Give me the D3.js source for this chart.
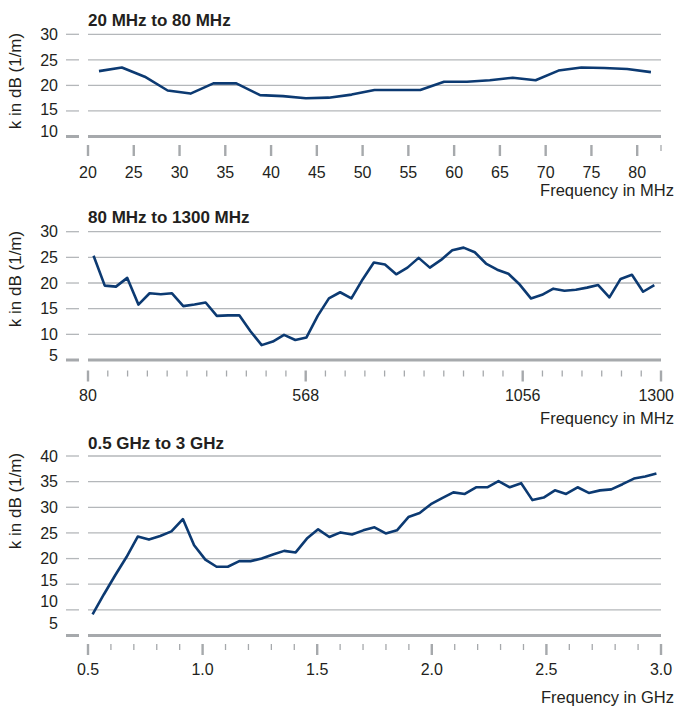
<!DOCTYPE html>
<html>
<head>
<meta charset="utf-8">
<script src="https://cdn.jsdelivr.net/npm/d3@7"></script>
<style>
  body { margin: 0; background: #fff; }
  svg { display: block; }
  text { font-family: "Liberation Sans", Arial, sans-serif; fill: #231f20; }
</style>
</head>
<body>
<svg id="chart"></svg>
<script>
// --- data ---
const band1Freq = [21.2, 23.7, 26.2, 28.7, 31.2, 33.7, 36.2, 38.8, 41.3, 43.8, 46.3, 48.8, 51.3,
  53.8, 56.3, 58.9, 61.4, 63.9, 66.4, 68.9, 71.4, 73.9, 76.4, 78.9, 81.5];
const band1K = [22.8, 23.5, 21.7, 19.0, 18.4, 20.4, 20.4, 18.1, 17.9, 17.5, 17.6, 18.2, 19.1,
  19.1, 19.1, 20.7, 20.7, 21.0, 21.5, 21.0, 22.9, 23.5, 23.4, 23.2, 22.6];

const band2Freq = [92.5, 117.6, 142.7, 168.0, 193.0, 218.1, 243.2, 268.3, 293.6, 318.7, 343.7,
  368.8, 394.1, 419.1, 444.2, 469.3, 494.3, 519.4, 544.7, 569.8, 595.0, 620.2, 645.4, 670.8,
  696.0, 721.2, 746.3, 771.5, 796.9, 822.0, 847.2, 872.4, 897.6, 923.0, 948.2, 973.4, 998.7,
  1023.8, 1049.3, 1070.5, 1090.2, 1110.0, 1129.7, 1149.7, 1169.4, 1189.2, 1209.0, 1228.7,
  1248.7, 1268.4, 1288.2];
const band2K = [25.3, 19.5, 19.3, 21.0, 15.8, 18.0, 17.8, 18.0, 15.5, 15.8, 16.2, 13.6, 13.7,
  13.7, 10.6, 7.9, 8.6, 9.9, 8.9, 9.4, 13.6, 17.0, 18.2, 17.0, 20.7, 24.0, 23.6, 21.7, 23.0,
  24.9, 23.0, 24.5, 26.4, 26.9, 26.0, 23.8, 22.6, 21.8, 19.7, 17.0, 17.7, 18.9, 18.5, 18.7,
  19.1, 19.6, 17.2, 20.8, 21.6, 18.3, 19.6];

const band3Freq = [0.520, 0.569, 0.618, 0.668, 0.717, 0.766, 0.815, 0.864, 0.914, 0.963, 1.012,
  1.061, 1.110, 1.160, 1.209, 1.258, 1.307, 1.356, 1.406, 1.455, 1.504, 1.553, 1.602, 1.652,
  1.701, 1.750, 1.799, 1.848, 1.898, 1.947, 1.996, 2.045, 2.094, 2.144, 2.193, 2.242, 2.291,
  2.340, 2.390, 2.439, 2.488, 2.537, 2.586, 2.636, 2.685, 2.734, 2.783, 2.832, 2.882, 2.931, 2.980];
const band3K = [9.1, 13.0, 16.7, 20.3, 24.3, 23.7, 24.4, 25.3, 27.7, 22.6, 19.8, 18.4, 18.4,
  19.5, 19.5, 20.0, 20.8, 21.5, 21.2, 23.9, 25.7, 24.2, 25.1, 24.7, 25.5, 26.1, 24.9, 25.5,
  28.1, 28.9, 30.6, 31.8, 32.9, 32.6, 33.9, 33.9, 35.1, 33.9, 34.7, 31.4, 31.9, 33.3, 32.6,
  33.9, 32.8, 33.3, 33.5, 34.5, 35.6, 36.0, 36.6];

const band1XTicks = [20, 25, 30, 35, 40, 45, 50, 55, 60, 65, 70, 75, 80];
const band2XTicks = [80, 568, 1056, 1300];
const band2MinorSteps = [11, 11, 7];
const band3XTicks = [0.5, 1.0, 1.5, 2.0, 2.5, 3.0];

const band1YTicks = [10, 15, 20, 25, 30];
const band2YTicks = [5, 10, 15, 20, 25, 30];
const band3YTicks = [5, 10, 15, 20, 25, 30, 35, 40];

// --- layout ---
const width = 675, height = 708;
const plotLeft = 88, plotRight = 661;
const gridColor = "#b4b7ba", baseColor = "#a6a9ac", lineColor = "#0c3a72";

const svg = d3.select("#chart").attr("width", width).attr("height", height);

const band2Minor = [];
band2XTicks.slice(0, -1).forEach((a, i) => {
  const b = band2XTicks[i + 1];
  for (let k = 1; k < band2MinorSteps[i]; k++) band2Minor.push(a + (b - a) * k / band2MinorSteps[i]);
});

const panels = [
  {
    title: "20 MHz to 80 MHz", unit: "Frequency in MHz",
    freq: band1Freq, k: band1K, yTicks: band1YTicks, xTicks: band1XTicks,
    x: d3.scaleLinear().domain([20, 82.6]).range([plotLeft, plotRight]),
    y: d3.scaleLinear().domain([10, 30]).range([136.5, 34.3]),
    minor: [82.6], fmt: d => d,
    titleY: 26, tickTop: 145, labelY: 178, unitY: 196, yLabelMid: 81,
    nudge: { 15: -2, 10: -5 }
  },
  {
    title: "80 MHz to 1300 MHz", unit: "Frequency in MHz",
    freq: band2Freq, k: band2K, yTicks: band2YTicks, xTicks: band2XTicks,
    x: d3.scaleLinear().domain(band2XTicks).range([plotLeft, 305.7, 522.7, plotRight]),
    y: d3.scaleLinear().domain([5, 30]).range([360, 231.7]),
    minor: band2Minor, fmt: d => d,
    titleY: 223, tickTop: 370.5, labelY: 401, unitY: 424, yLabelMid: 279,
    nudge: { 5: -5 }
  },
  {
    title: "0.5 GHz to 3 GHz", unit: "Frequency in GHz",
    freq: band3Freq, k: band3K, yTicks: band3YTicks, xTicks: band3XTicks,
    x: d3.scaleLinear().domain([0.5, 3.0]).range([plotLeft, plotRight]),
    y: d3.scaleLinear().domain([5, 40]).range([635.5, 456]),
    minor: d3.range(0.6, 3.0, 0.1).filter(v => Math.abs(v * 2 - Math.round(v * 2)) > 0.01),
    fmt: d3.format(".1f"),
    titleY: 449, tickTop: 644, labelY: 675, unitY: 703, yLabelMid: 501,
    nudge: { 15: -4, 10: -9, 5: -12 }
  }
];

panels.forEach(p => {
  const g = svg.append("g");
  const yMin = d3.min(p.yTicks);

  // horizontal grid + small y tick dashes
  const rows = g.append("g").selectAll("g").data(p.yTicks).join("g");
  rows.append("line")
    .attr("x1", plotLeft).attr("x2", plotRight)
    .attr("y1", d => p.y(d)).attr("y2", d => p.y(d));
  rows.append("line")
    .attr("x1", 66).attr("x2", 79)
    .attr("y1", d => p.y(d)).attr("y2", d => p.y(d));
  rows.selectAll("line")
    .attr("stroke", d => d === yMin ? baseColor : gridColor)
    .attr("stroke-width", d => d === yMin ? 3 : 1.3);

  rows.append("text")
    .attr("x", 58)
    .attr("y", d => p.y(d) + (p.nudge[d] || 0))
    .attr("dy", "0.36em")
    .attr("text-anchor", "end")
    .style("font-size", "16px")
    .text(d => d);

  // x ticks, drawn below the plot
  g.append("g").selectAll("line").data(p.xTicks).join("line")
    .attr("x1", d => p.x(d)).attr("x2", d => p.x(d))
    .attr("y1", p.tickTop).attr("y2", p.tickTop + 11)
    .attr("stroke", baseColor).attr("stroke-width", 2.4);
  g.append("g").selectAll("line").data(p.minor).join("line")
    .attr("x1", d => p.x(d)).attr("x2", d => p.x(d))
    .attr("y1", p.tickTop).attr("y2", p.tickTop + 6)
    .attr("stroke", baseColor).attr("stroke-width", 1.3);

  // labels that would run off the right edge are pulled in
  g.append("g").selectAll("text").data(p.xTicks).join("text")
    .attr("y", p.labelY)
    .style("font-size", "16px")
    .text(p.fmt)
    .each(function(d) {
      const w = this.getComputedTextLength();
      const cx = p.x(d);
      const t = d3.select(this);
      if (cx + w / 2 > width - 1) t.attr("x", width - 1).attr("text-anchor", "end");
      else t.attr("x", cx).attr("text-anchor", "middle");
    });

  // the curve
  const pts = p.freq.map((f, i) => [f, p.k[i]]);
  g.append("path")
    .datum(pts)
    .attr("fill", "none")
    .attr("stroke", lineColor)
    .attr("stroke-width", 2.6)
    .attr("stroke-linejoin", "round")
    .attr("d", d3.line().x(d => p.x(d[0])).y(d => p.y(d[1])));

  g.append("text")
    .attr("x", plotLeft).attr("y", p.titleY)
    .style("font-size", "17px").style("font-weight", "bold")
    .text(p.title);

  g.append("text")
    .attr("x", 674).attr("y", p.unitY)
    .attr("text-anchor", "end")
    .style("font-size", "16.5px")
    .text(p.unit);

  g.append("text")
    .attr("transform", `translate(21,${p.yLabelMid}) rotate(-90)`)
    .attr("text-anchor", "middle")
    .style("font-size", "17px")
    .text("k in dB (1/m)");
});
</script>
</body>
</html>
